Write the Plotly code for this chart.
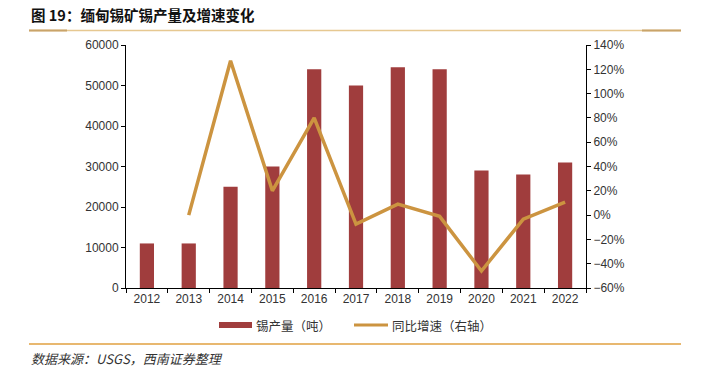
import plotly.graph_objects as go

years = ["2012", "2013", "2014", "2015", "2016", "2017", "2018", "2019", "2020", "2021", "2022"]
production = [11000, 11000, 25000, 30000, 54000, 50000, 54500, 54000, 29000, 28000, 31000]
growth_years = ["2013", "2014", "2015", "2016", "2017", "2018", "2019", "2020", "2021", "2022"]
growth = [0.0, 1.27, 0.20, 0.80, -0.074, 0.09, -0.01, -0.46, -0.034, 0.107]

W, H = 707, 374
L, R, T, B = 126, 586, 45, 288

def px(x):
    return (x - L) / (R - L)

def py(y):
    return (B - y) / (B - T)

BAR_COLOR = "#A03D3D"
LINE_COLOR = "#CC9440"
FONT = "Liberation Sans, Arial, sans-serif"
CJK = "Noto Sans CJK SC, sans-serif"
TICKFONT = dict(family=FONT, size=12, color="#333333")

fig = go.Figure()
fig.add_trace(go.Bar(x=years, y=production, name="锡产量（吨）", marker_color=BAR_COLOR,
                     marker_line_width=0, yaxis="y", showlegend=False))
fig.add_trace(go.Scatter(x=growth_years, y=growth, name="同比增速（右轴）", mode="lines",
                         line=dict(color=LINE_COLOR, width=3.5), yaxis="y2", showlegend=False))

fig.update_layout(
    width=W, height=H,
    margin=dict(l=L, r=W - R, t=T, b=H - B, pad=0),
    paper_bgcolor="white", plot_bgcolor="white",
    bargap=0.66,
    font=dict(family=FONT, size=12, color="#333333"),
    showlegend=False,
    xaxis=dict(type="category", showline=True, linecolor="#000000", linewidth=1,
               ticks="outside", ticklen=4, tickcolor="#000000", tickson="boundaries",
               showgrid=False, tickfont=TICKFONT),
    yaxis=dict(range=[0, 60000], dtick=10000, showline=True, linecolor="#000000",
               linewidth=1, ticks="outside", ticklen=4, tickcolor="#000000",
               showgrid=False, zeroline=False, tickformat="d", tickfont=TICKFONT),
    yaxis2=dict(range=[-0.6, 1.4], dtick=0.2, overlaying="y", side="right",
                showline=True, linecolor="#000000", linewidth=1, ticks="outside",
                ticklen=4, tickcolor="#000000", showgrid=False, zeroline=False,
                tickformat=".0%", tickfont=TICKFONT),
)

fig.add_annotation(text="<b>图 19：缅甸锡矿锡产量及增速变化</b>", xref="paper", yref="paper",
                   x=px(29), y=py(15), xanchor="left", yanchor="middle", showarrow=False,
                   font=dict(family=CJK, size=14.5, color="#111111"))
fig.add_annotation(text="<i>数据来源：USGS，西南证券整理</i>", xref="paper", yref="paper",
                   x=px(29), y=py(358), xanchor="left", yanchor="middle", showarrow=False,
                   font=dict(family=CJK, size=13, color="#333333"))

# manual legend
fig.add_shape(type="rect", xref="paper", yref="paper", x0=px(219), x1=px(252), y0=py(328), y1=py(322),
              fillcolor=BAR_COLOR, line=dict(width=0))
fig.add_annotation(text="锡产量（吨）", xref="paper", yref="paper", x=px(254), y=py(325),
                   xanchor="left", yanchor="middle", showarrow=False,
                   font=dict(family=CJK, size=12.5, color="#333333"))
fig.add_shape(type="line", xref="paper", yref="paper", x0=px(354), x1=px(388), y0=py(325), y1=py(325),
              line=dict(color=LINE_COLOR, width=3))
fig.add_annotation(text="同比增速（右轴）", xref="paper", yref="paper", x=px(390), y=py(325),
                   xanchor="left", yanchor="middle", showarrow=False,
                   font=dict(family=CJK, size=12.5, color="#333333"))

# header rule
fig.add_shape(type="line", xref="paper", yref="paper", x0=px(29), x1=px(681), y0=py(30.5), y1=py(30.5),
              line=dict(color="#E6C891", width=1.5))
fig.add_shape(type="line", xref="paper", yref="paper", x0=px(29), x1=px(67), y0=py(30.5), y1=py(30.5),
              line=dict(color="#C9A46A", width=2))
fig.add_shape(type="line", xref="paper", yref="paper", x0=px(642), x1=px(681), y0=py(30.5), y1=py(30.5),
              line=dict(color="#C9A46A", width=2))
# footer rule
fig.add_shape(type="line", xref="paper", yref="paper", x0=px(29), x1=px(681), y0=py(344), y1=py(344),
              line=dict(color="#E0A040", width=1.5))

fig.write_html("out.html", config={"displayModeBar": False})

with open("out.html", "r", encoding="utf-8") as f:
    html = f.read()
html = html.replace("<body>", '<body style="margin:0;padding:0;overflow:hidden">', 1)
with open("out.html", "w", encoding="utf-8") as f:
    f.write(html)
